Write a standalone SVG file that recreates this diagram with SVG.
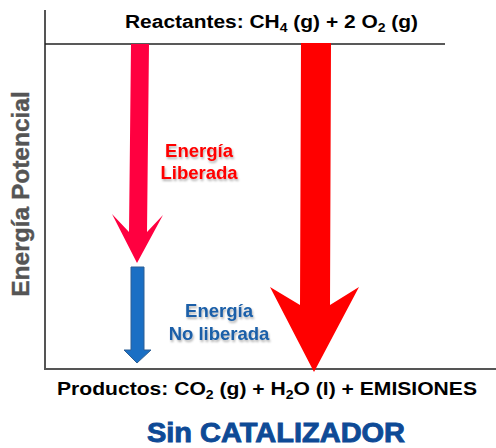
<svg xmlns="http://www.w3.org/2000/svg" width="496" height="448" viewBox="0 0 496 448">
<defs>
<style>
.t{font-family:"Liberation Sans",Arial,sans-serif;font-weight:bold;}
.blk{fill:#000;font-size:18px;}
.lbl{font-size:18.5px;text-anchor:middle;}
</style>
<filter id="sh" x="-20%" y="-30%" width="140%" height="170%">
<feDropShadow dx="1" dy="2" stdDeviation="1" flood-color="#000" flood-opacity="0.3"/>
</filter>
</defs>
<rect width="496" height="448" fill="#fff"/>
<g id="axes">
<line x1="45" y1="10" x2="45" y2="369" stroke="#555" stroke-width="2"/>
<line x1="45" y1="44" x2="445" y2="44" stroke="#222" stroke-width="1.5"/>
<line x1="44" y1="369" x2="496" y2="369" stroke="#555" stroke-width="2"/>
</g>
<g id="connectors">
<polygon id="arrow-liberada" points="131,44 149,44 147,232 163,215 137,263 112,214 129,232" fill="#ff0040"/>
<polygon id="arrow-noliberada" points="131,267 144,267 144,350 151,350 137,363 124,350 131,350" fill="#1a6fc4" stroke="#2d5f94" stroke-width="1"/>
<polygon id="arrow-total" points="301,43 331,43 330,305 359,287 314,372 270,287 300,305" fill="#ff0000"/>
</g>
<g id="reactantes">
<text class="t blk" x="125" y="28" textLength="293" lengthAdjust="spacingAndGlyphs">Reactantes: CH<tspan font-size="12" dy="4">4</tspan><tspan dy="-4"> (g) + 2 O</tspan><tspan font-size="12" dy="4">2</tspan><tspan dy="-4"> (g)</tspan></text>
</g>
<g id="productos">
<text class="t blk" x="57" y="395" textLength="420" lengthAdjust="spacingAndGlyphs">Productos: CO<tspan font-size="12" dy="4">2</tspan><tspan dy="-4"> (g) + H</tspan><tspan font-size="12" dy="4">2</tspan><tspan dy="-4">O (l) + EMISIONES</tspan></text>
</g>
<g id="energia-liberada" filter="url(#sh)">
<text class="t lbl" fill="#ff0000" x="199" y="157">Energía</text>
<text class="t lbl" fill="#ff0000" x="199" y="179">Liberada</text>
</g>
<g id="energia-no-liberada" filter="url(#sh)">
<text class="t lbl" fill="#1a5fa8" x="219" y="317">Energía</text>
<text class="t lbl" fill="#1a5fa8" x="219" y="340">No liberada</text>
</g>
<g id="eje-y">
<text class="t" fill="#555" stroke="#555" stroke-width="0.4" font-size="24.5" text-anchor="middle" transform="translate(29,194) rotate(-90)">Energía Potencial</text>
</g>
<g id="titulo">
<text class="t" fill="#0e4a96" stroke="#0e4a96" stroke-width="0.9" font-size="27" x="276" y="442" text-anchor="middle" textLength="258" lengthAdjust="spacingAndGlyphs">Sin CATALIZADOR</text>
</g>
</svg>
